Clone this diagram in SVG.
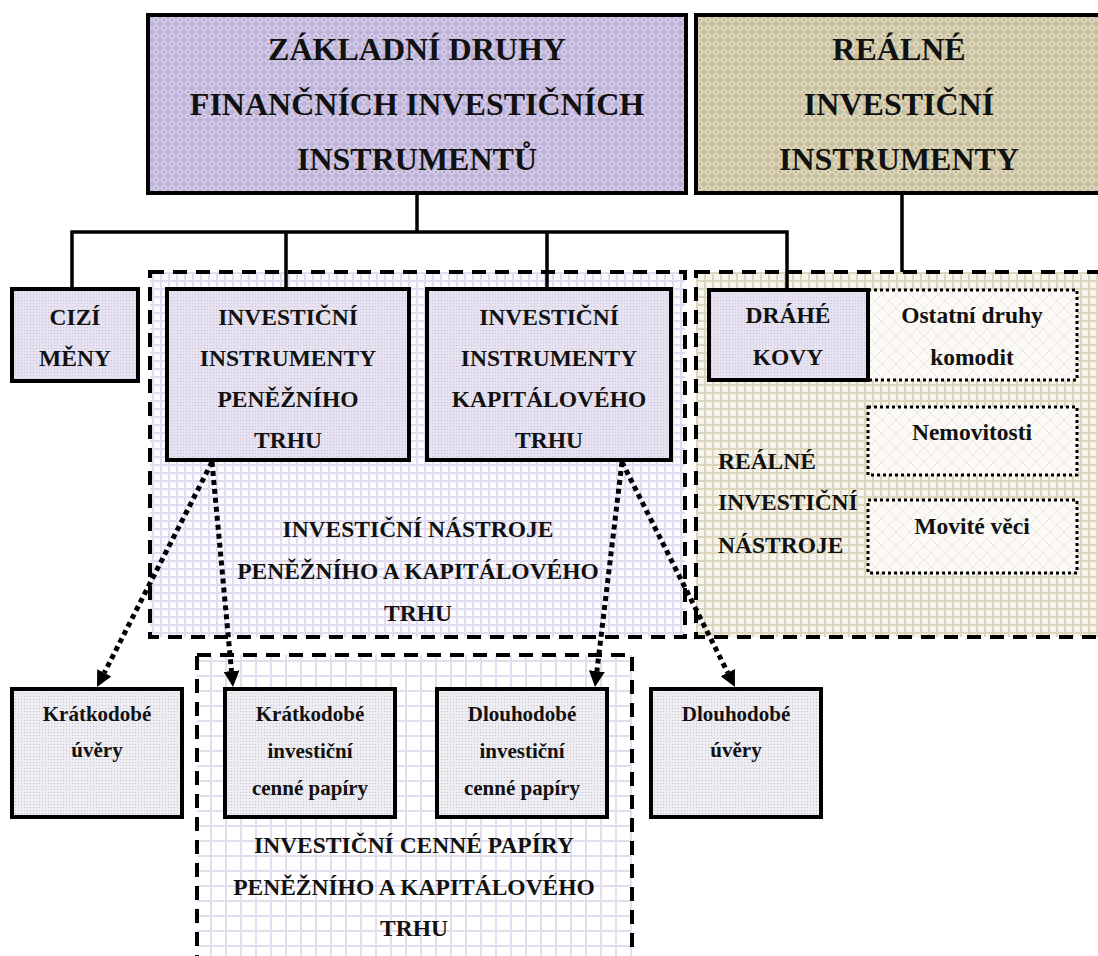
<svg xmlns="http://www.w3.org/2000/svg" width="1098" height="956" viewBox="0 0 1098 956">
<style>
  text { font-family: "Liberation Serif", "Times New Roman", serif; font-weight: bold; fill: #111; text-anchor: middle; }
  .t32 { font-size: 32px; }
  .t24 { font-size: 23.5px; }
  .t21 { font-size: 21px; }
  .solid { stroke: #000; stroke-width: 4; }
  .dash { fill: none; stroke: #000; stroke-width: 4; stroke-dasharray: 14 9; }
  .dot { stroke: #000; stroke-width: 3; stroke-dasharray: 3 3; }
  .conn { fill: none; stroke: #000; stroke-width: 3.5; }
  .arrow { fill: none; stroke: #000; stroke-width: 5; stroke-dasharray: 5 4; }
</style>
<defs>
  <pattern id="pTitleL" width="8" height="8" patternUnits="userSpaceOnUse">
    <rect width="8" height="8" fill="#beb2d8"/>
    <path d="M4 0 L8 4 L4 8 L0 4 Z" fill="#d6cfe9"/>
    <rect x="3" y="3" width="2" height="2" fill="#a898c8"/>
  </pattern>
  <pattern id="pTitleR" width="8" height="8" patternUnits="userSpaceOnUse">
    <rect width="8" height="8" fill="#c8c09c"/>
    <path d="M4 0 L8 4 L4 8 L0 4 Z" fill="#e0dac2"/>
    <rect x="3" y="3" width="2" height="2" fill="#b3aa82"/>
  </pattern>
  <pattern id="pNode" width="3" height="3" patternUnits="userSpaceOnUse">
    <rect width="3" height="3" fill="#e6e2f0"/>
    <rect width="1" height="1" fill="#c9c1df"/>
  </pattern>
  <pattern id="pBottom" width="3" height="3" patternUnits="userSpaceOnUse">
    <rect width="3" height="3" fill="#eeedf2"/>
    <rect width="1" height="1" fill="#c8c6d4"/>
  </pattern>
  <pattern id="pGridL" width="8" height="8" patternUnits="userSpaceOnUse">
    <rect width="8" height="8" fill="#fbfaff"/>
    <path d="M0 1 H8 M1 0 V8" stroke="#e1dbef" stroke-width="2"/>
  </pattern>
  <pattern id="pGridL2" width="15" height="15" patternUnits="userSpaceOnUse">
    <rect width="15" height="15" fill="#ffffff"/>
    <path d="M0 1 H15 M1 0 V15" stroke="#e3ddf0" stroke-width="2"/>
  </pattern>
  <pattern id="pGridT" width="8" height="8" patternUnits="userSpaceOnUse">
    <rect width="8" height="8" fill="#f7f5ee"/>
    <path d="M0 1 H8 M1 0 V8" stroke="#dcd6bd" stroke-width="2"/>
  </pattern>
  <pattern id="pCross" width="14" height="14" patternUnits="userSpaceOnUse">
    <rect width="14" height="14" fill="#fbfaf7"/>
    <path d="M0 0 L14 14 M14 0 L0 14" stroke="#ebe7de" stroke-width="1"/>
  </pattern>
  <marker id="ah" viewBox="0 0 16 16" refX="0" refY="8" markerWidth="16" markerHeight="16" markerUnits="userSpaceOnUse" orient="auto">
    <path d="M0 0 L16 8 L0 16 Z" fill="#000"/>
  </marker>
</defs>

<rect width="1098" height="956" fill="#ffffff"/>

<!-- group containers -->
<g id="group-nastroje">
  <rect x="150" y="272" width="535" height="365" fill="url(#pGridL)"/>
  <rect x="150" y="272" width="535" height="365" class="dash"/>
  <text class="t24" x="418" y="537">INVESTIČNÍ NÁSTROJE</text>
  <text class="t24" x="418" y="579">PENĚŽNÍHO A KAPITÁLOVÉHO</text>
  <text class="t24" x="418" y="621">TRHU</text>
</g>
<g id="group-realne">
  <rect x="696" y="272" width="420" height="365" fill="url(#pGridT)"/>
  <rect x="696" y="272" width="420" height="365" class="dash"/>
  <text class="t24" x="718" y="469" style="text-anchor:start">REÁLNÉ</text>
  <text class="t24" x="718" y="510" style="text-anchor:start">INVESTIČNÍ</text>
  <text class="t24" x="718" y="553" style="text-anchor:start">NÁSTROJE</text>
</g>
<g id="group-papiry">
  <rect x="197" y="655" width="435" height="320" fill="url(#pGridL2)"/>
  <rect x="197" y="655" width="435" height="320" class="dash"/>
  <text class="t24" x="414" y="853">INVESTIČNÍ CENNÉ PAPÍRY</text>
  <text class="t24" x="414" y="895">PENĚŽNÍHO A KAPITÁLOVÉHO</text>
  <text class="t24" x="414" y="936">TRHU</text>
</g>

<!-- tree connectors -->
<g id="connectors">
  <path class="conn" d="M417 193 V232 M72 289 V232 H787 V290 M286 232 V289 M547 232 V289 M902 193 V272"/>
</g>

<!-- nodes -->
<g id="node-zakladni">
  <rect x="148" y="15" width="538" height="178" fill="url(#pTitleL)" class="solid"/>
  <text class="t32" x="417" y="60">ZÁKLADNÍ DRUHY</text>
  <text class="t32" x="417" y="115">FINANČNÍCH INVESTIČNÍCH</text>
  <text class="t32" x="417" y="170">INSTRUMENTŮ</text>
</g>
<g id="node-realne-instr">
  <rect x="696" y="15" width="420" height="178" fill="url(#pTitleR)" class="solid"/>
  <text class="t32" x="899" y="60">REÁLNÉ</text>
  <text class="t32" x="899" y="115">INVESTIČNÍ</text>
  <text class="t32" x="899" y="170">INSTRUMENTY</text>
</g>
<g id="node-cizi">
  <rect x="12" y="289" width="126" height="92" fill="url(#pNode)" class="solid"/>
  <text class="t24" x="75" y="325">CIZÍ</text>
  <text class="t24" x="75" y="366">MĚNY</text>
</g>
<g id="node-penezni">
  <rect x="167" y="289" width="242" height="171" fill="url(#pNode)" class="solid"/>
  <text class="t24" x="288" y="325">INVESTIČNÍ</text>
  <text class="t24" x="288" y="366">INSTRUMENTY</text>
  <text class="t24" x="288" y="407">PENĚŽNÍHO</text>
  <text class="t24" x="288" y="448">TRHU</text>
</g>
<g id="node-kapitalovy">
  <rect x="427" y="289" width="244" height="171" fill="url(#pNode)" class="solid"/>
  <text class="t24" x="549" y="325">INVESTIČNÍ</text>
  <text class="t24" x="549" y="366">INSTRUMENTY</text>
  <text class="t24" x="549" y="407">KAPITÁLOVÉHO</text>
  <text class="t24" x="549" y="448">TRHU</text>
</g>
<g id="node-ostatni">
  <rect x="868" y="290" width="209" height="90" fill="url(#pCross)" class="dot"/>
  <text class="t24" x="972" y="323">Ostatní druhy</text>
  <text class="t24" x="972" y="365">komodit</text>
</g>
<g id="node-drahe">
  <rect x="709" y="290" width="159" height="90" fill="url(#pNode)" class="solid"/>
  <text class="t24" x="788" y="323">DRÁHÉ</text>
  <text class="t24" x="788" y="365">KOVY</text>
</g>
<g id="node-nemovitosti">
  <rect x="868" y="407" width="209" height="68" fill="url(#pCross)" class="dot"/>
  <text class="t24" x="972" y="440">Nemovitosti</text>
</g>
<g id="node-movite">
  <rect x="868" y="500" width="209" height="73" fill="url(#pCross)" class="dot"/>
  <text class="t24" x="972" y="534">Movité věci</text>
</g>
<g id="node-kratko-uvery">
  <rect x="12" y="689" width="170" height="128" fill="url(#pBottom)" class="solid"/>
  <text class="t21" x="97" y="721">Krátkodobé</text>
  <text class="t21" x="97" y="757">úvěry</text>
</g>
<g id="node-kratko-papiry">
  <rect x="225" y="689" width="170" height="128" fill="url(#pBottom)" class="solid"/>
  <text class="t21" x="310" y="721">Krátkodobé</text>
  <text class="t21" x="310" y="758">investiční</text>
  <text class="t21" x="310" y="795">cenné papíry</text>
</g>
<g id="node-dlouho-papiry">
  <rect x="437" y="689" width="170" height="128" fill="url(#pBottom)" class="solid"/>
  <text class="t21" x="522" y="721">Dlouhodobé</text>
  <text class="t21" x="522" y="758">investiční</text>
  <text class="t21" x="522" y="795">cenné papíry</text>
</g>
<g id="node-dlouho-uvery">
  <rect x="651" y="689" width="170" height="128" fill="url(#pBottom)" class="solid"/>
  <text class="t21" x="736" y="721">Dlouhodobé</text>
  <text class="t21" x="736" y="757">úvěry</text>
</g>

<!-- dotted arrows -->
<g id="arrows">
  <line class="arrow" x1="212" y1="462" x2="104.3" y2="672.8" marker-end="url(#ah)"/>
  <line class="arrow" x1="212" y1="462" x2="231.5" y2="671.1" marker-end="url(#ah)"/>
  <line class="arrow" x1="622" y1="462" x2="596.9" y2="671.1" marker-end="url(#ah)"/>
  <line class="arrow" x1="622" y1="462" x2="727.8" y2="672.7" marker-end="url(#ah)"/>
</g>
</svg>
